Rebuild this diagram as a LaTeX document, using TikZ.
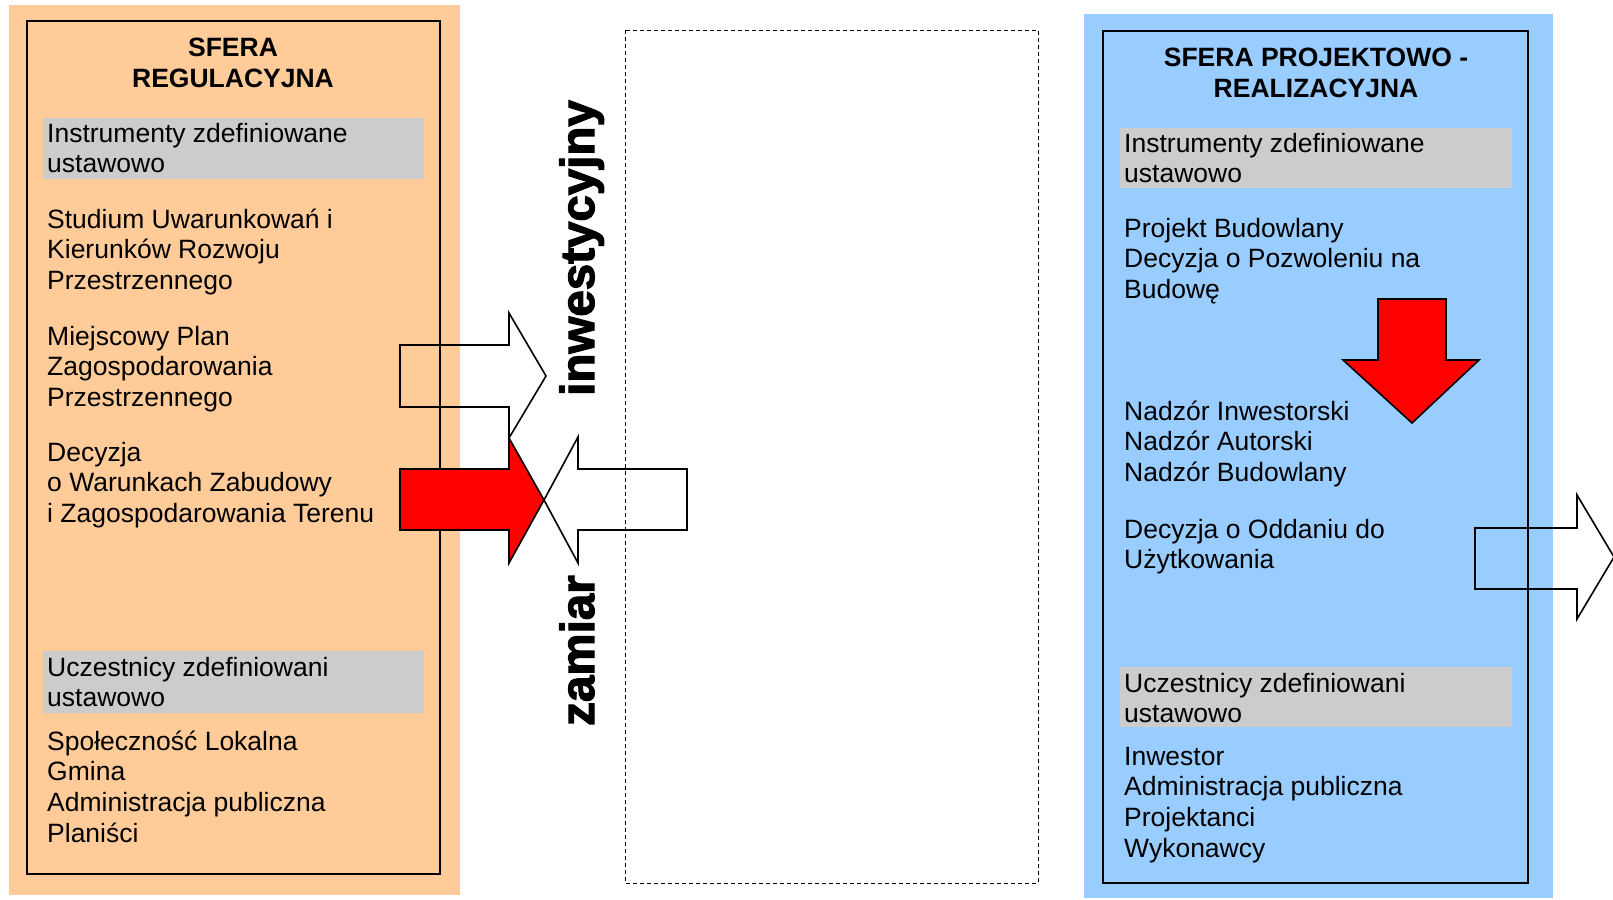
\documentclass[tikz,border=0pt]{standalone}
\usepackage{fontspec}
\setmainfont{Liberation Sans}
\newfontfamily\heavyfont[FakeBold=2.5]{Liberation Sans Bold}
\definecolor{peach}{HTML}{FFCC99}
\definecolor{skyb}{HTML}{99CCFF}
\definecolor{boxgray}{HTML}{CCCCCC}
\definecolor{arrred}{HTML}{FF0000}
\begin{document}
\begin{tikzpicture}[x=1pt,y=-1pt,
 txt/.style={anchor=base west,align=left,inner sep=0pt,font=\fontsize{26.5}{30.8}\selectfont},
 ttl/.style={anchor=base,align=center,inner sep=0pt,font=\fontsize{26.5}{31}\selectfont\bfseries},
 frame/.style={draw=black,line width=1.8pt},
 graybox/.style={fill=boxgray},
 blockarrow/.style={draw=black,line width=1.6pt,line join=miter},
 vert/.style={rotate=90,anchor=base west,inner sep=0pt,font=\fontsize{47.5}{50}\heavyfont}]
\useasboundingbox (0,0) rectangle (1613,899);
% backgrounds
\fill[peach] (9,5) rectangle (460,895);
\fill[skyb] (1084,14) rectangle (1553,898);
\draw[frame] (27,21) rectangle (440,874);
\draw[frame] (1103,31) rectangle (1528,883);
\draw[line width=0.9pt,dash pattern=on 4pt off 3pt] (625,30) rectangle (1038,883);
% gray boxes
\fill[graybox] (43,118) rectangle (424,179);
\fill[graybox] (43,651) rectangle (424,713);
\fill[graybox] (1120,128) rectangle (1512,188);
\fill[graybox] (1120,667) rectangle (1512,727);
% left column (anchor = baseline of last line)
\node[ttl] (t1) at (233,87) {SFERA\\REGULACYJNA};
\node[txt] (l1) at (47,172.8) {Instrumenty zdefiniowane\\ustawowo};
\node[txt] (l2) at (47,289.6) {Studium Uwarunkowań i\\Kierunków Rozwoju\\Przestrzennego};
\node[txt] (l3) at (47,406.6) {Miejscowy Plan\\Zagospodarowania\\Przestrzennego};
\node[txt] (l4) at (47,522.6) {Decyzja\\o Warunkach Zabudowy\\i Zagospodarowania Terenu};
\node[txt] (l5) at (47,706.8) {Uczestnicy zdefiniowani\\ustawowo};
\node[txt] (l6) at (47,842.4) {Społeczność Lokalna\\Gmina\\Administracja publiczna\\Planiści};
% right column
\node[ttl] (t2) at (1316,97) {SFERA PROJEKTOWO -\\REALIZACYJNA};
\node[txt] (r1) at (1124,182.8) {Instrumenty zdefiniowane\\ustawowo};
\node[txt] (r2) at (1124,298.6) {Projekt Budowlany\\Decyzja o Pozwoleniu na\\Budowę};
\node[txt] (r3) at (1124,481.6) {Nadzór Inwestorski\\Nadzór Autorski\\Nadzór Budowlany};
\node[txt] (r4) at (1124,568.8) {Decyzja o Oddaniu do\\Użytkowania};
\node[txt] (r5) at (1124,722.8) {Uczestnicy zdefiniowani\\ustawowo};
\node[txt] (r6) at (1124,857.4) {Inwestor\\Administracja publiczna\\Projektanci\\Wykonawcy};
% vertical words
\node[vert] (w1) at (594,396) {inwestycyjny};
\node[vert] (w2) at (594,726) {zamiar};
% arrows
\draw[blockarrow] (400,345) -- (509,345) -- (509,313) -- (546,376) -- (509,438) -- (509,407) -- (400,407) -- cycle;
\draw[blockarrow,fill=arrred] (400,469) -- (509,469) -- (509,438) -- (544,500) -- (509,563) -- (509,530) -- (400,530) -- cycle;
\draw[blockarrow] (687,469) -- (578,469) -- (578,437) -- (544,500) -- (578,563) -- (578,530) -- (687,530) -- cycle;
\draw[blockarrow] (1475,528) -- (1577,528) -- (1577,495) -- (1614,557) -- (1577,619) -- (1577,589) -- (1475,589) -- cycle;
\draw[blockarrow,fill=arrred] (1378,299) -- (1446,299) -- (1446,360) -- (1479,360) -- (1412,423) -- (1343,360) -- (1378,360) -- cycle;
\end{tikzpicture}
\end{document}
